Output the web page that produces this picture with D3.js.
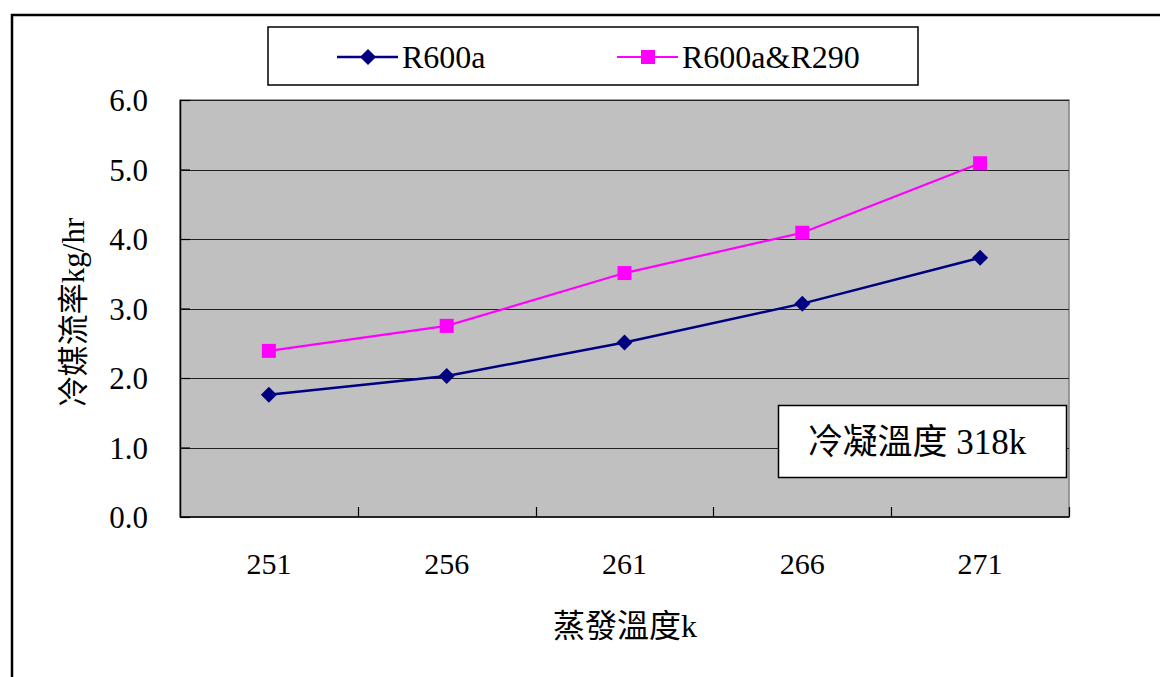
<!DOCTYPE html>
<html>
<head>
<meta charset="utf-8">
<script src="https://cdn.jsdelivr.net/npm/d3@7"></script>
<style>
  html, body { margin: 0; padding: 0; background: #fff; }
  svg { display: block; }
  text { font-family: "Liberation Serif", "Noto Sans CJK TC", serif; fill: #000; }
</style>
</head>
<body>
<svg id="chart" width="1160" height="677"></svg>
<script>
// Evaporating temperature (K) on the x axis
const categories = ["251", "256", "261", "266", "271"];
// Refrigerant mass flow rate (kg/hr)
const seriesR600a = [1.76, 2.03, 2.51, 3.07, 3.73];
const seriesBlend = [2.39, 2.75, 3.51, 4.09, 5.09];
const seriesNames = ["R600a", "R600a&R290"];
const yTicks = [0, 1, 2, 3, 4, 5, 6];
const yTitle = "冷媒流率kg/hr";
const xTitle = "蒸發溫度k";
const noteText = "冷凝溫度 318k";

const svg = d3.select("#chart");
const plot = { left: 180, top: 100, right: 1069, bottom: 517 };

// outer frame (extends past the window on the right and bottom)
svg.append("rect")
  .attr("x", 12).attr("y", 15).attr("width", 1200).attr("height", 720)
  .attr("fill", "none").attr("stroke", "#000").attr("stroke-width", 2.5);

const x = d3.scaleBand().domain(categories).range([plot.left, plot.right]).padding(0);
const y = d3.scaleLinear().domain([0, 6]).range([plot.bottom, plot.top]);
const cx = c => x(c) + x.bandwidth() / 2;

// plot background
svg.append("rect")
  .attr("x", plot.left).attr("y", plot.top)
  .attr("width", plot.right - plot.left).attr("height", plot.bottom - plot.top)
  .attr("fill", "#c0c0c0").attr("stroke", "#808080").attr("stroke-width", 1.5);

// horizontal gridlines
svg.append("g").selectAll("line")
  .data(yTicks.filter(t => t > 0))
  .join("line")
  .attr("x1", plot.left).attr("x2", plot.right)
  .attr("y1", d => Math.round(y(d)) + 0.5).attr("y2", d => Math.round(y(d)) + 0.5)
  .attr("stroke", "#222").attr("stroke-width", 1);

// y axis
const yAxis = svg.append("g")
  .attr("transform", `translate(${plot.left},0)`)
  .call(d3.axisLeft(y).tickValues(yTicks).tickFormat(d3.format(".1f"))
    .tickSizeInner(-10).tickSizeOuter(0).tickPadding(32));
yAxis.select(".domain").attr("stroke", "#000").attr("stroke-width", 1.5);
yAxis.selectAll(".tick line").attr("stroke", "#000").attr("stroke-width", 1.2);
yAxis.selectAll(".tick text")
  .attr("font-size", 31).attr("font-family", "Liberation Serif").attr("dy", "0.34em");

// x axis: ticks at category boundaries, pointing into the plot
const xAxisG = svg.append("g").attr("transform", `translate(0,${plot.bottom})`);
xAxisG.append("line")
  .attr("x1", plot.left).attr("x2", plot.right)
  .attr("y1", 0).attr("y2", 0)
  .attr("stroke", "#000").attr("stroke-width", 1.5);
const boundaries = categories.slice(1).map(c => x(c)).concat([plot.right]);
xAxisG.selectAll("line.tk").data(boundaries).join("line")
  .attr("class", "tk")
  .attr("x1", d => Math.round(d) + 0.5).attr("x2", d => Math.round(d) + 0.5)
  .attr("y1", 0).attr("y2", -10)
  .attr("stroke", "#000").attr("stroke-width", 1.2);
xAxisG.selectAll("text").data(categories).join("text")
  .attr("x", d => cx(d)).attr("y", 57)
  .attr("text-anchor", "middle").attr("font-size", 30)
  .text(d => d);

// axis titles
svg.append("text")
  .attr("transform", `translate(84,${(plot.top + plot.bottom) / 2 + 4}) rotate(-90)`)
  .attr("text-anchor", "middle").attr("font-size", 31)
  .text(yTitle);
svg.append("text")
  .attr("x", 625).attr("y", 637)
  .attr("text-anchor", "middle").attr("font-size", 32)
  .text(xTitle);

// series
const line = d3.line().x((d, i) => cx(categories[i])).y(d => y(d));
// square-proportioned diamond marker
const diamondPath = "M0,-8L8,0L0,8L-8,0Z";

svg.append("path").datum(seriesR600a)
  .attr("d", line).attr("fill", "none")
  .attr("stroke", "#000080").attr("stroke-width", 2.5);
svg.append("path").datum(seriesBlend)
  .attr("d", line).attr("fill", "none")
  .attr("stroke", "#ff00ff").attr("stroke-width", 2.2);

svg.append("g").selectAll("path").data(seriesR600a).join("path")
  .attr("transform", (d, i) => `translate(${cx(categories[i])},${y(d)})`)
  .attr("d", diamondPath).attr("fill", "#000080");
svg.append("g").selectAll("rect").data(seriesBlend).join("rect")
  .attr("x", (d, i) => cx(categories[i]) - 7).attr("y", d => y(d) - 7)
  .attr("width", 14).attr("height", 14).attr("fill", "#ff00ff");

// legend
const legend = svg.append("g");
legend.append("rect")
  .attr("x", 268).attr("y", 27).attr("width", 650).attr("height", 58)
  .attr("fill", "#fff").attr("stroke", "#000").attr("stroke-width", 1.5);
const legendItems = [
  { name: seriesNames[0], x0: 337, color: "#000080", w: 2.5, mark: "diamond" },
  { name: seriesNames[1], x0: 617, color: "#ff00ff", w: 2.2, mark: "square" }
];
legendItems.forEach(it => {
  legend.append("line")
    .attr("x1", it.x0).attr("x2", it.x0 + 61).attr("y1", 57).attr("y2", 57)
    .attr("stroke", it.color).attr("stroke-width", it.w);
  if (it.mark === "diamond") {
    legend.append("path").attr("d", diamondPath)
      .attr("transform", `translate(${it.x0 + 31},57)`).attr("fill", it.color);
  } else {
    legend.append("rect").attr("x", it.x0 + 24).attr("y", 50)
      .attr("width", 14).attr("height", 14).attr("fill", it.color);
  }
  legend.append("text")
    .attr("x", it.x0 + 65).attr("y", 68).attr("font-size", 32)
    .text(it.name);
});

// condensing temperature note
svg.append("rect")
  .attr("x", 778.5).attr("y", 405.5).attr("width", 288).attr("height", 72)
  .attr("fill", "#fff").attr("stroke", "#000").attr("stroke-width", 1.5);
svg.append("text")
  .attr("x", 917).attr("y", 454)
  .attr("text-anchor", "middle").attr("font-size", 35)
  .text(noteText);
</script>
</body>
</html>
